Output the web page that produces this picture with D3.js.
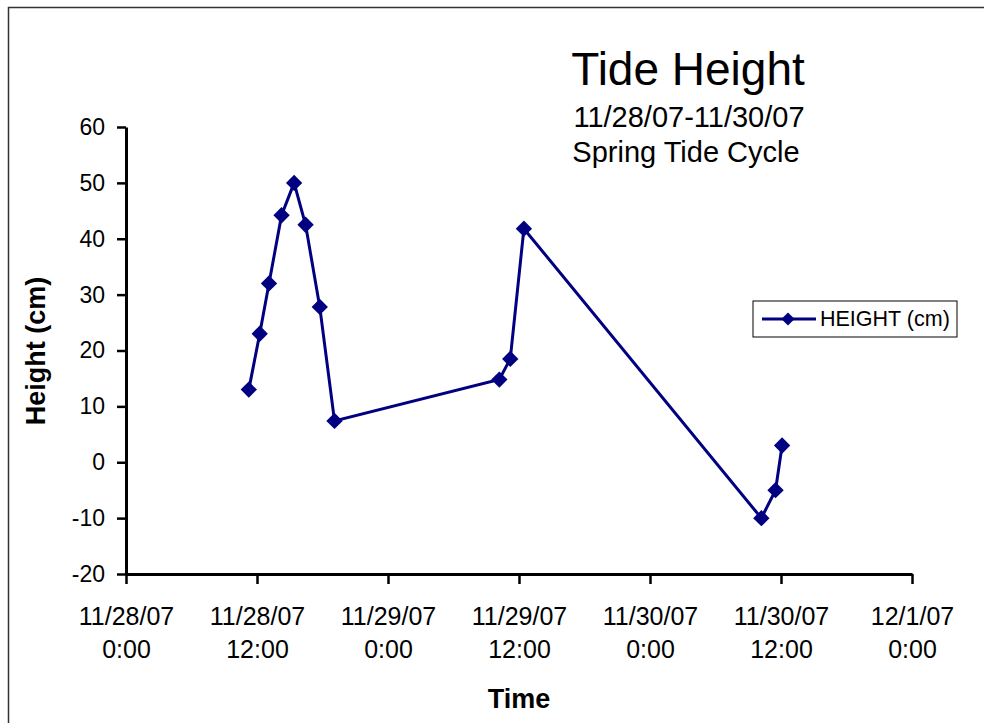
<!DOCTYPE html>
<html>
<head>
<meta charset="utf-8">
<script src="https://cdn.jsdelivr.net/npm/d3@7"></script>
<style>
  body { margin: 0; background: #fff; }
  text { font-family: "Liberation Sans", Arial, sans-serif; }
</style>
</head>
<body>
<div id="chart"></div>
<script>
// readings: hours after 11/28/07 0:00 and height in cm
const hours = [11.25, 12.25, 13.1, 14.25, 15.4, 16.45, 17.75, 19.1,
               34.2, 35.2, 36.45, 58.2, 59.5, 60.1];
const heights = [13, 23, 32, 44.2, 50, 42.5, 27.8, 7.4,
                 14.8, 18.5, 41.8, -10, -5, 3];
const yTicks = [-20, -10, 0, 10, 20, 30, 40, 50, 60];
const xTickHours = [0, 12, 24, 36, 48, 60, 72];
const xTickLabels = [["11/28/07", "0:00"], ["11/28/07", "12:00"], ["11/29/07", "0:00"],
                     ["11/29/07", "12:00"], ["11/30/07", "0:00"], ["11/30/07", "12:00"],
                     ["12/1/07", "0:00"]];

const W = 984, H = 723;
const navy = "#000080";
const font = "Liberation Sans, Arial, sans-serif";
const start = new Date(2007, 10, 28, 0, 0);
const toDate = h => new Date(start.getTime() + h * 3600 * 1000);
const data = hours.map((h, i) => ({date: toDate(h), value: heights[i]}));

const svg = d3.select("#chart").append("svg")
    .attr("width", W).attr("height", H);

// chart frame
svg.append("rect")
    .attr("x", 8.5).attr("y", 7.5)
    .attr("width", W).attr("height", H)
    .attr("fill", "none").attr("stroke", "#333").attr("stroke-width", 1.5);

const x = d3.scaleTime()
    .domain([toDate(0), toDate(72)])
    .range([126, 912]);

const y = d3.scaleLinear()
    .domain([-20, 60])
    .range([574, 127]);

// y axis (plain hyphen for negatives, like the original)
const yAxis = svg.append("g")
    .attr("transform", "translate(126,0)")
    .call(d3.axisLeft(y).tickValues(yTicks).tickFormat(d => String(d))
        .tickSize(9).tickPadding(12).tickSizeOuter(0));
yAxis.select(".domain").attr("stroke", "#000").attr("stroke-width", 3);
yAxis.selectAll(".tick line").attr("stroke", "#000").attr("stroke-width", 2.5);
yAxis.selectAll(".tick text")
    .attr("font-size", 23).attr("fill", "#000")
    .attr("font-family", font);

// x axis
const xAxis = svg.append("g")
    .attr("transform", "translate(0,574)")
    .call(d3.axisBottom(x).tickValues(xTickHours.map(toDate)).tickSize(10).tickFormat("").tickSizeOuter(0));
xAxis.select(".domain").attr("stroke", "#000").attr("stroke-width", 3);
xAxis.selectAll(".tick line").attr("stroke", "#000").attr("stroke-width", 2.5);

xAxis.selectAll(".tick").each(function(d, i) {
    const t = d3.select(this).append("text")
        .attr("fill", "#000").attr("font-size", 25)
        .attr("text-anchor", "middle")
        .attr("font-family", font);
    t.append("tspan").attr("x", 0).attr("y", 51).text(xTickLabels[i][0]);
    t.append("tspan").attr("x", 0).attr("y", 84).text(xTickLabels[i][1]);
});

// axis titles
svg.append("text")
    .attr("x", 519).attr("y", 708)
    .attr("text-anchor", "middle")
    .attr("font-size", 27).attr("font-weight", "bold")
    .text("Time");

svg.append("text")
    .attr("transform", "translate(45,351) rotate(-90)")
    .attr("text-anchor", "middle")
    .attr("font-size", 27).attr("font-weight", "bold")
    .text("Height (cm)");

// titles
svg.append("text")
    .attr("x", 688).attr("y", 85)
    .attr("text-anchor", "middle")
    .attr("font-size", 46)
    .text("Tide Height");
svg.append("text")
    .attr("x", 689).attr("y", 127)
    .attr("text-anchor", "middle")
    .attr("font-size", 29)
    .text("11/28/07-11/30/07");
svg.append("text")
    .attr("x", 686).attr("y", 162)
    .attr("text-anchor", "middle")
    .attr("font-size", 29)
    .text("Spring Tide Cycle");

// series line
const line = d3.line()
    .x(d => x(d.date))
    .y(d => y(d.value));

svg.append("path")
    .datum(data)
    .attr("d", line)
    .attr("fill", "none")
    .attr("stroke", navy)
    .attr("stroke-width", 3);

const diamond = d3.symbol().type(d3.symbolDiamond2).size(170);

svg.selectAll(".dot")
    .data(data)
    .enter().append("path")
    .attr("class", "dot")
    .attr("d", diamond)
    .attr("transform", d => `translate(${x(d.date)},${y(d.value)})`)
    .attr("fill", navy);

// legend
const leg = svg.append("g").attr("transform", "translate(753,301)");
leg.append("rect")
    .attr("width", 204).attr("height", 36)
    .attr("fill", "#fff").attr("stroke", "#000").attr("stroke-width", 1);
leg.append("line")
    .attr("x1", 9).attr("x2", 63).attr("y1", 18).attr("y2", 18)
    .attr("stroke", navy).attr("stroke-width", 3);
leg.append("path")
    .attr("d", d3.symbol().type(d3.symbolDiamond2).size(110))
    .attr("transform", "translate(35,18)")
    .attr("fill", navy);
leg.append("text")
    .attr("x", 67).attr("y", 25)
    .attr("font-size", 21.5)
    .text("HEIGHT (cm)");
</script>
</body>
</html>
